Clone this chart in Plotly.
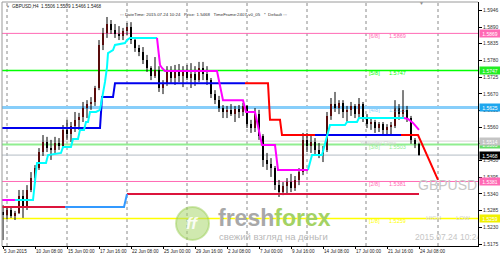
import plotly.graph_objects as go

# ---------------- data ----------------
BAR_OPEN = [
    1.5280, 1.5271, 1.5287, 1.5267, 1.5277, 1.5333, 1.5294, 1.5353, 1.5392, 1.5425,
    1.5478, 1.5511, 1.5491, 1.5485, 1.5508, 1.5498, 1.5551, 1.5537, 1.5564, 1.5584,
    1.5593, 1.5623, 1.5636, 1.5643, 1.5689, 1.5831, 1.5870, 1.5900, 1.5880, 1.5867,
    1.5860, 1.5877, 1.5890, 1.5847, 1.5821, 1.5808, 1.5781, 1.5755, 1.5729, 1.5748,
    1.5689, 1.5702, 1.5742, 1.5722, 1.5748, 1.5729, 1.5742, 1.5722, 1.5735, 1.5715,
    1.5755, 1.5735, 1.5715, 1.5669, 1.5649, 1.5623, 1.5610, 1.5617, 1.5603, 1.5620,
    1.5610, 1.5630, 1.5570, 1.5557, 1.5603, 1.5531, 1.5452, 1.5439, 1.5425, 1.5369,
    1.5346, 1.5366, 1.5379, 1.5360, 1.5386, 1.5412, 1.5518, 1.5498, 1.5511, 1.5485,
    1.5472, 1.5485, 1.5597, 1.5636, 1.5623, 1.5640, 1.5610, 1.5617, 1.5630, 1.5603,
    1.5636, 1.5590, 1.5570, 1.5577, 1.5557, 1.5570, 1.5551, 1.5561, 1.5564, 1.5623,
    1.5603, 1.5617, 1.5590, 1.5518, 1.5506]
BAR_HIGH = [
    1.5303, 1.5297, 1.5294, 1.5284, 1.5353, 1.5353, 1.5369, 1.5412, 1.5435, 1.5491,
    1.5534, 1.5528, 1.5518, 1.5528, 1.5524, 1.5567, 1.5584, 1.5577, 1.5610, 1.5607,
    1.5643, 1.5649, 1.5659, 1.5696, 1.5847, 1.5887, 1.5923, 1.5913, 1.5900, 1.5893,
    1.5887, 1.5903, 1.5906, 1.5854, 1.5831, 1.5824, 1.5798, 1.5761, 1.5791, 1.5761,
    1.5715, 1.5761, 1.5761, 1.5765, 1.5768, 1.5761, 1.5765, 1.5771, 1.5761, 1.5775,
    1.5775, 1.5761, 1.5722, 1.5682, 1.5663, 1.5633, 1.5630, 1.5636, 1.5630, 1.5633,
    1.5640, 1.5633, 1.5584, 1.5623, 1.5617, 1.5537, 1.5475, 1.5458, 1.5432, 1.5386,
    1.5379, 1.5392, 1.5406, 1.5399, 1.5425, 1.5541, 1.5541, 1.5531, 1.5524, 1.5508,
    1.5498, 1.5610, 1.5656, 1.5676, 1.5649, 1.5649, 1.5630, 1.5643, 1.5636, 1.5656,
    1.5643, 1.5603, 1.5590, 1.5584, 1.5577, 1.5577, 1.5570, 1.5577, 1.5649, 1.5636,
    1.5682, 1.5630, 1.5597, 1.5524, 1.5509]
BAR_LOW = [
    1.5188, 1.5257, 1.5261, 1.5254, 1.5274, 1.5261, 1.5287, 1.5346, 1.5376, 1.5419,
    1.5465, 1.5478, 1.5452, 1.5475, 1.5485, 1.5491, 1.5518, 1.5511, 1.5544, 1.5551,
    1.5577, 1.5590, 1.5617, 1.5630, 1.5682, 1.5814, 1.5854, 1.5867, 1.5854, 1.5847,
    1.5847, 1.5864, 1.5834, 1.5808, 1.5794, 1.5768, 1.5742, 1.5715, 1.5722, 1.5676,
    1.5669, 1.5696, 1.5702, 1.5699, 1.5709, 1.5692, 1.5715, 1.5689, 1.5696, 1.5709,
    1.5715, 1.5699, 1.5656, 1.5636, 1.5610, 1.5590, 1.5590, 1.5597, 1.5577, 1.5590,
    1.5597, 1.5557, 1.5541, 1.5544, 1.5518, 1.5429, 1.5419, 1.5396, 1.5353, 1.5330,
    1.5336, 1.5343, 1.5346, 1.5350, 1.5369, 1.5402, 1.5478, 1.5475, 1.5465, 1.5458,
    1.5445, 1.5478, 1.5584, 1.5610, 1.5603, 1.5590, 1.5577, 1.5597, 1.5590, 1.5590,
    1.5577, 1.5557, 1.5551, 1.5541, 1.5544, 1.5534, 1.5537, 1.5537, 1.5557, 1.5584,
    1.5590, 1.5577, 1.5505, 1.5491, 1.5466]
BAR_CLOSE = [
    1.5271, 1.5287, 1.5267, 1.5277, 1.5333, 1.5294, 1.5353, 1.5392, 1.5425, 1.5478,
    1.5511, 1.5491, 1.5485, 1.5508, 1.5498, 1.5551, 1.5537, 1.5564, 1.5584, 1.5593,
    1.5623, 1.5636, 1.5643, 1.5689, 1.5831, 1.5870, 1.5900, 1.5880, 1.5867, 1.5860,
    1.5877, 1.5890, 1.5847, 1.5821, 1.5808, 1.5781, 1.5755, 1.5729, 1.5748, 1.5689,
    1.5702, 1.5742, 1.5722, 1.5748, 1.5729, 1.5742, 1.5722, 1.5735, 1.5715, 1.5755,
    1.5735, 1.5715, 1.5669, 1.5649, 1.5623, 1.5610, 1.5617, 1.5603, 1.5620, 1.5610,
    1.5630, 1.5570, 1.5557, 1.5603, 1.5531, 1.5452, 1.5439, 1.5425, 1.5369, 1.5346,
    1.5366, 1.5379, 1.5360, 1.5386, 1.5412, 1.5518, 1.5498, 1.5511, 1.5485, 1.5472,
    1.5485, 1.5597, 1.5636, 1.5623, 1.5640, 1.5610, 1.5617, 1.5630, 1.5603, 1.5636,
    1.5590, 1.5570, 1.5577, 1.5557, 1.5570, 1.5551, 1.5561, 1.5564, 1.5623, 1.5603,
    1.5617, 1.5590, 1.5518, 1.5505, 1.5468]

X_LABEL_IDX = [0, 16, 32, 48, 64, 80, 96, 112, 128, 144, 160, 176, 192, 208]
X_LABELS = ["5 Jun 2015", "10 Jun 08:00", "15 Jun 00:00", "17 Jun 16:00",
            "22 Jun 08:00", "25 Jun 00:00", "29 Jun 16:00", "2 Jul 08:00",
            "7 Jul 00:00", "9 Jul 16:00", "14 Jul 08:00", "17 Jul 00:00",
            "21 Jul 16:00", "24 Jul 08:00"]
Y_TICKS = [1.5946, 1.5890, 1.5835, 1.5780, 1.5725, 1.5670, 1.5615, 1.5560,
           1.5505, 1.5450, 1.5395, 1.5340, 1.5285, 1.5230, 1.5175]
GRID_IDX = [2, 32, 62, 92, 122, 152, 181.5, 217.5]

MURREY_LEVELS = [1.5869, 1.5747, 1.5625, 1.5503, 1.5381, 1.5259]
MURREY_NAMES = ["[6/8]", "[5/8]", "[4/8]", "[3/8]", "[2/8]", "[1/8]"]
PREV_CLOSE = 1.5514
BID = 1.5468

# trend step line (blue = up, red = down)
BLUE_X = [-1, 48.5, 49.5, 55, 56, 121, None, 156, 199]
BLUE_Y = [1.5557, 1.5557, 1.5659, 1.5659, 1.5705, 1.5705, None, 1.5534, 1.5534]
RED_X = [121, 132.5, 133.5, 138.5, 139.5, 156, None, 199, 207.5, 217.5]
RED_Y = [1.5705, 1.5705, 1.5584, 1.5584, 1.5534, 1.5534, None, 1.5534, 1.5534, 1.5386]

# fast step line (cyan = up, magenta = down)
CYAN_X = [6, 15, 17, 21.5, 22.5, 29, 30, 34, 35, 37.5, 38.5, 40.5, 41.5, 42.5,
          43.5, 46.5, 48.5, 50, 51, 52, 52.5, 55, 56, 61, 62, 63.5, 77, None,
          152.5, 154.5, 159.5, 163.5, 171, 172, 177, 178, 200.5]
CYAN_Y = [1.5320, 1.5320, 1.5442, 1.5442, 1.5468, 1.5475, 1.5495, 1.5495, 1.5521,
          1.5521, 1.5551, 1.5551, 1.5577, 1.5577, 1.5610, 1.5610, 1.5617, 1.5666,
          1.5709, 1.5758, 1.5804, 1.5814, 1.5831, 1.5837, 1.5847, 1.5854, 1.5854, None,
          1.5419, 1.5468, 1.5468, 1.5567, 1.5567, 1.5577, 1.5577, 1.5590, 1.5590]
MAGENTA_X = [-1, 6, None, 77, 78.5, 79.5, 81, 107, 109.5, 110, 120, 121.5, 126,
             129.5, 136, 137.5, 152.5, None, 200.5, 202.5, 205, 208]
MAGENTA_Y = [1.5320, 1.5320, None, 1.5854, 1.5765, 1.5755, 1.5745, 1.5745, 1.5666,
             1.5649, 1.5649, 1.5610, 1.5610, 1.5501, 1.5501, 1.5419, 1.5419, None,
             1.5590, 1.5587, 1.5574, 1.5551]

# slow lower step line
CRIMSON_X = [-1, 31, None, 62, 208]
CRIMSON_Y = [1.5297, 1.5297, None, 1.5340, 1.5340]
DODGER_X = [31, 60.5, 62]
DODGER_Y = [1.5297, 1.5297, 1.5340]

# ---------------- styles ----------------
FONT = "Liberation Sans, Arial, sans-serif"
LEVEL_COLORS = ["#ff69b4", "#00ff00", "#87cefa", "#90ee90", "#ff69b4", "#ffff00"]
LEVEL_WIDTHS = [1, 1.5, 3, 2, 1, 1.5]
BOX_COLORS = ["#ff69b4", "#22ee22", "#1ea6ee", "#66dd66", "#ff69b4", "#f0f000"]

W, H = 500, 257
ML, MR, MT, MB = 2, 22, 2, 11


def px(x):
    return (x - ML) / (W - ML - MR)


def py(y):
    return (H - MB - y) / (H - MT - MB)


N = len(BAR_OPEN)
BAR_IDX = list(range(0, 2 * N, 2))

fig = go.Figure()

# vertical dotted grid
for g in GRID_IDX:
    fig.add_shape(type="line", xref="x", yref="paper", x0=g, x1=g, y0=0, y1=1,
                  line=dict(color="#8a8a8a", width=1, dash="dot"), layer="below")

# horizontal levels
for lvl, col, w in zip(MURREY_LEVELS, LEVEL_COLORS, LEVEL_WIDTHS):
    fig.add_shape(type="line", xref="paper", yref="y", x0=0, x1=1, y0=lvl, y1=lvl,
                  line=dict(color=col, width=w), layer="below")
fig.add_shape(type="line", xref="paper", yref="y", x0=0, x1=1, y0=PREV_CLOSE, y1=PREV_CLOSE,
              line=dict(color="#d4d4d4", width=1), layer="below")
fig.add_shape(type="line", xref="paper", yref="y", x0=0, x1=1, y0=BID, y1=BID,
              line=dict(color="#b4bcc4", width=1), layer="below")

# borders top/left
fig.add_shape(type="line", xref="paper", yref="paper", x0=0, x1=1, y0=1, y1=1,
              line=dict(color="#9a9a9a", width=1))
fig.add_shape(type="line", xref="paper", yref="paper", x0=0, x1=0, y0=0, y1=1,
              line=dict(color="#9a9a9a", width=1))

# logo circle
fig.add_shape(type="circle", xref="paper", yref="paper",
              x0=px(176), x1=px(209), y0=py(240), y1=py(207),
              fillcolor="rgba(170,215,110,0.55)", line=dict(color="rgba(150,205,80,0.45)", width=2),
              layer="below")

# level labels (under candles)
for lvl, name, col in zip(MURREY_LEVELS, MURREY_NAMES, LEVEL_COLORS):
    fig.add_trace(go.Scatter(x=[183, 193], y=[lvl, lvl], mode="text",
                             text=[name, f"{lvl:.4f}"], textposition="bottom right",
                             textfont=dict(size=5.5, color=col, family=FONT),
                             hoverinfo="skip", cliponaxis=True))
fig.add_trace(go.Scatter(x=[178.5], y=[PREV_CLOSE], mode="text", text=["Yesterday Close"],
                         textposition="bottom right",
                         textfont=dict(size=5, color="#d2d2d2", family=FONT),
                         hoverinfo="skip"))

# big watermark texts (clipped to plot area)
fig.add_trace(go.Scatter(x=[207.5], y=[1.5366], mode="text", text=["GBPUSD"],
                         textposition="middle right",
                         textfont=dict(size=14, color="#c6c6c6", family=FONT),
                         hoverinfo="skip", cliponaxis=True))
fig.add_trace(go.Scatter(x=[206], y=[1.5195], mode="text", text=["2015.07.24 10:24"],
                         textposition="middle right",
                         textfont=dict(size=8.5, color="#c6c6c6", family=FONT),
                         hoverinfo="skip", cliponaxis=True))
fig.add_trace(go.Scatter(x=[211.5, 226.5], y=[1.5259, 1.5259], mode="text", text=["HIGH", "LOW"],
                         textposition="middle right",
                         textfont=dict(size=6, color="#cfcfcf", family=FONT),
                         hoverinfo="skip", cliponaxis=True))

# candle wicks
wx, wy = [], []
for i, hi, lo in zip(BAR_IDX, BAR_HIGH, BAR_LOW):
    wx += [i, i, None]
    wy += [lo, hi, None]
fig.add_trace(go.Scatter(x=wx, y=wy, mode="lines", line=dict(color="#000000", width=1),
                         hoverinfo="skip"))

# candle bodies
bases = [min(o, c) for o, c in zip(BAR_OPEN, BAR_CLOSE)]
heights = [max(abs(c - o), 0.00012) for o, c in zip(BAR_OPEN, BAR_CLOSE)]
colors = ["#b01818" if c >= o else "#000000" for o, c in zip(BAR_OPEN, BAR_CLOSE)]
fig.add_trace(go.Bar(x=BAR_IDX, y=heights, base=bases, width=1.3,
                     marker=dict(color=colors, line=dict(width=0)), hoverinfo="skip"))

# step lines
fig.add_trace(go.Scatter(x=CRIMSON_X, y=CRIMSON_Y, mode="lines", line=dict(color="#dc143c", width=2)))
fig.add_trace(go.Scatter(x=DODGER_X, y=DODGER_Y, mode="lines", line=dict(color="#3399ff", width=2)))
fig.add_trace(go.Scatter(x=BLUE_X, y=BLUE_Y, mode="lines", line=dict(color="#0000ee", width=2)))
fig.add_trace(go.Scatter(x=RED_X, y=RED_Y, mode="lines", line=dict(color="#ff0000", width=2)))
fig.add_trace(go.Scatter(x=CYAN_X, y=CYAN_Y, mode="lines", line=dict(color="#00ffff", width=2)))
fig.add_trace(go.Scatter(x=MAGENTA_X, y=MAGENTA_Y, mode="lines", line=dict(color="#ff00ff", width=2)))

ann = []
# x-axis labels (left aligned as in MT4)
for i, t in zip(X_LABEL_IDX, X_LABELS):
    ann.append(dict(x=i, xref="x", y=py(251.5), yref="paper", text=t, showarrow=False,
                    xanchor="left", yanchor="middle", xshift=-1,
                    font=dict(size=4.6, color="#222222", family=FONT)))

# price boxes on right axis
box_items = list(zip(MURREY_LEVELS, BOX_COLORS))
box_items = box_items[:3] + [(MURREY_LEVELS[3], BOX_COLORS[3]), (PREV_CLOSE, "#c4c4c4"),
                             (BID, "#000000")] + box_items[4:]
for v, bg in box_items:
    ann.append(dict(x=1, xref="paper", y=v, yref="y", text=f"{v:.4f}", showarrow=False,
                    xanchor="left", yanchor="middle", xshift=1, bgcolor=bg,
                    width=20, height=7, borderpad=0, align="center",
                    font=dict(size=5, color="#ffffff", family=FONT)))

NB = "\u00a0"
ann.append(dict(x=px(4), y=py(6), xref="paper", yref="paper", text="▼", showarrow=False,
                xanchor="left", yanchor="middle", font=dict(size=4, color="#808080", family=FONT)))
ann.append(dict(x=px(10), y=py(6), xref="paper", yref="paper",
                text=f"GBPUSD,H4{NB}{NB}1.5506 1.5509 1.5466 1.5468", showarrow=False,
                xanchor="left", yanchor="middle", font=dict(size=4.6, color="#202020", family=FONT)))
ann.append(dict(x=px(118), y=py(14), xref="paper", yref="paper",
                text=(f":::{NB}DateTime:{NB}2015.07.24{NB}10:24{NB*3}Price:{NB}1.5468{NB*3}"
                      f"TimeFrame:2407-v0_05{NB*3}*{NB*2}Default{NB}:::"),
                showarrow=False, xanchor="left", yanchor="middle",
                font=dict(size=4.4, color="#303030", family=FONT)))
ann.append(dict(x=px(421), y=py(3), xref="paper", yref="paper", text="▼", showarrow=False,
                xanchor="center", yanchor="middle", font=dict(size=5, color="#909090", family=FONT)))

# logo
ann.append(dict(x=px(192.5), y=py(223.5), xref="paper", yref="paper", text="<b><i>ff</i></b>",
                showarrow=False, xanchor="center", yanchor="middle",
                font=dict(size=17, color="rgba(255,255,255,0.9)", family=FONT)))
ann.append(dict(x=px(216), y=py(218), xref="paper", yref="paper",
                text=("<b><span style='color:#a8a8a8'>fresh</span>"
                      "<span style='color:#a3d264'>forex</span></b>"),
                showarrow=False, xanchor="left", yanchor="middle",
                font=dict(size=23, color="#a8a8a8", family=FONT)))
ann.append(dict(x=px(217), y=py(236), xref="paper", yref="paper",
                text="свежий взгляд на деньги", showarrow=False, xanchor="left", yanchor="middle",
                font=dict(size=9.5, color="#b8b8b8", family=FONT)))

fig.update_layout(
    width=W, height=H, margin=dict(l=ML, r=MR, t=MT, b=MB),
    paper_bgcolor="white", plot_bgcolor="white", showlegend=False,
    annotations=ann, bargap=0,
    xaxis=dict(range=[-0.5, 237.5], showgrid=False, zeroline=False, showline=True,
               linecolor="#000000", linewidth=1, ticks="outside", ticklen=2,
               tickcolor="#000000", tickvals=X_LABEL_IDX, showticklabels=False,
               fixedrange=True),
    yaxis=dict(range=[1.51684, 1.59724], side="right", showgrid=False, zeroline=False,
               showline=True, linecolor="#000000", linewidth=1, ticks="outside", ticklen=3,
               tickcolor="#000000", tickvals=Y_TICKS, ticktext=[f"{v:.4f}" for v in Y_TICKS],
               tickfont=dict(size=5, color="#333333", family=FONT), fixedrange=True),
)

fig.write_html("out.html")
